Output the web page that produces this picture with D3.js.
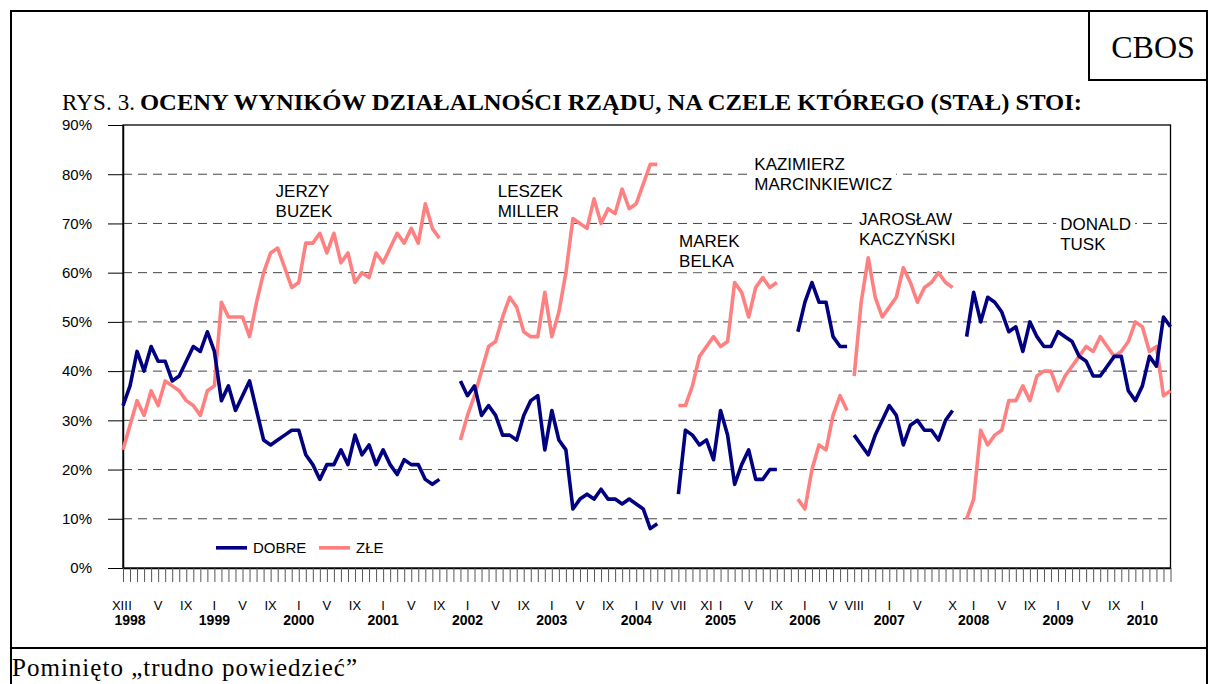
<!DOCTYPE html>
<html>
<head>
<meta charset="utf-8">
<script src="https://cdn.jsdelivr.net/npm/d3@7/dist/d3.min.js"></script>
<style>
  body { margin: 0; background: #fff; }
  svg { display: block; }
</style>
</head>
<body>
<svg></svg>
<script>
// DATA  (month index 0 = XII 1997, one step per month, last = V 2010)

const N_MONTHS = 150;

// first month index of each government's series
const govStart = [0, 48, 79, 96, 104, 120];

const govNames = [
    ["JERZY", "BUZEK"],
    ["LESZEK", "MILLER"],
    ["MAREK", "BELKA"],
    ["KAZIMIERZ", "MARCINKIEWICZ"],
    ["JAROSŁAW", "KACZYŃSKI"],
    ["DONALD", "TUSK"]
];

// where the name sits: [month index, percent] of its first line
const govLabelPos = [[21.7, 76.6], [53.3, 76.6], [79.1, 66.4], [89.8, 82.1], [104.7, 70.9], [133.3, 69.9]];

// "dobre" (good) ratings, per government
const dobreBuzek = [33, 37, 44, 40, 45, 42, 42, 38, 39, 42, 45, 44, 48, 44, 34, 37, 32, 35, 38, 32, 26, 25, 26, 27, 28,
    28, 23, 21, 18, 21, 21, 24, 21, 27, 23, 25, 21, 24, 21, 19, 22, 21, 21, 18, 17, 18];
const dobreMiller = [38, 35, 37, 31, 33, 31, 27, 27, 26, 31, 34, 35, 24, 32, 26, 24, 12, 14, 15, 14, 16, 14, 14, 13, 14,
    13, 12, 8, 9];
const dobreBelka = [15, 28, 27, 25, 26, 22, 32, 27, 17, 21, 24, 18, 18, 20, 20];
const dobreMarcinkiewicz = [48, 54, 58, 54, 54, 47, 45, 45];
const dobreKaczynski = [27, 25, 23, 27, 30, 33, 31, 25, 29, 30, 28, 28, 26, 30, 32];
const dobreTusk = [47, 56, 50, 55, 54, 52, 48, 49, 44, 50, 47, 45, 45, 48, 47, 46, 43, 42, 39, 39, 41, 43, 43, 36, 34,
    37, 43, 41, 51, 49];

// "złe" (bad) ratings, per government
const zleBuzek = [24, 29, 34, 31, 36, 33, 38, 37, 36, 34, 33, 31, 36, 37, 54, 51, 51, 51, 47, 54, 60, 64, 65, 61, 57,
    58, 66, 66, 68, 64, 68, 62, 64, 58, 60, 59, 64, 62, 65, 68, 66, 69, 66, 74, 69, 67];
const zleMiller = [26, 31, 35, 40, 45, 46, 51, 55, 53, 48, 47, 47, 56, 47, 52, 60, 71, 70, 69, 75, 70, 73, 72, 77, 73,
    74, 78, 82, 82];
const zleBelka = [33, 33, 37, 43, 45, 47, 45, 46, 58, 56, 51, 57, 59, 57, 58];
const zleMarcinkiewicz = [14, 12, 20, 25, 24, 31, 35, 32];
const zleKaczynski = [39, 54, 63, 55, 51, 53, 55, 61, 58, 54, 57, 58, 60, 58, 57];
const zleTusk = [10, 14, 28, 25, 27, 28, 34, 34, 37, 34, 39, 40, 40, 36, 39, 41, 43, 45, 44, 47, 45, 43, 44, 46, 50,
    49, 44, 45, 35, 36];

const dobreByGov = [dobreBuzek, dobreMiller, dobreBelka, dobreMarcinkiewicz, dobreKaczynski, dobreTusk];
const zleByGov = [zleBuzek, zleMiller, zleBelka, zleMarcinkiewicz, zleKaczynski, zleTusk];

// month tick labels (index, roman numeral)
const monthLabelIdx = [0, 1, 5, 9, 13, 17, 21, 25, 29, 33, 37, 41, 45, 49, 53, 57, 61, 65, 69, 73, 76, 79, 83, 85,
    89, 93, 97, 101, 104, 109, 113, 118, 121, 125, 129, 133, 137, 141, 145];
const monthLabels = ["XII", "I", "V", "IX", "I", "V", "IX", "I", "V", "IX", "I", "V", "IX", "I", "V", "IX", "I", "V",
    "IX", "I", "IV", "VII", "XI", "I", "V", "IX", "I", "V", "VIII", "I", "V", "X", "I", "V", "IX", "I", "V", "IX", "I"];

const years = ["1998", "1999", "2000", "2001", "2002", "2003", "2004", "2005", "2006", "2007", "2008", "2009", "2010"];
const yearIdx = [1, 13, 25, 37, 49, 61, 73, 85, 97, 109, 121, 133, 145];

const yTicks = [0, 10, 20, 30, 40, 50, 60, 70, 80, 90];

// LAYOUT / STYLE

const WIDTH = 1208, HEIGHT = 684;
const PLOT = { left: 123, right: 1170.5, top: 125, bottom: 568 };
const DOBRE_COLOR = '#000080';
const ZLE_COLOR = '#ff8080';
const LINE_WIDTH = 3.6;
const SANS = '"Liberation Sans", Arial, sans-serif';
const SERIF = '"Liberation Serif", "Times New Roman", serif';

const x = d3.scaleLinear().domain([0, N_MONTHS - 1]).range([PLOT.left, PLOT.right]);
const y = d3.scaleLinear().domain([0, 90]).range([PLOT.bottom, PLOT.top]);

const svg = d3.select('svg')
    .attr('width', WIDTH)
    .attr('height', HEIGHT);

svg.append('rect')
    .attr('width', WIDTH).attr('height', HEIGHT)
    .attr('fill', '#fff');

// outer frame
const frame = svg.append('g').attr('fill', 'none').attr('stroke', '#000').attr('stroke-width', 2);
frame.append('path').attr('d', 'M11,684 L11,11 L1207,11 L1207,684');
frame.append('line').attr('x1', 11).attr('x2', 1207).attr('y1', 648).attr('y2', 648);
frame.append('path').attr('d', 'M1089,11 L1089,80 L1207,80');

svg.append('text')
    .attr('x', 1153).attr('y', 58)
    .attr('text-anchor', 'middle')
    .style('font-family', SERIF)
    .style('font-size', '32px')
    .text('CBOS');

// title
svg.append('text')
    .attr('x', 62).attr('y', 110)
    .attr('textLength', 73)
    .style('font-family', SERIF)
    .style('font-size', '23px')
    .text('RYS. 3.');
svg.append('text')
    .attr('x', 140).attr('y', 110)
    .attr('textLength', 942)
    .attr('lengthAdjust', 'spacingAndGlyphs')
    .style('font-family', SERIF)
    .style('font-size', '24px')
    .style('font-weight', 'bold')
    .text('OCENY WYNIKÓW DZIAŁALNOŚCI RZĄDU, NA CZELE KTÓREGO (STAŁ) STOI:');

// footer note
svg.append('text')
    .attr('x', 12).attr('y', 676)
    .attr('textLength', 345)
    .attr('lengthAdjust', 'spacing')
    .style('font-family', SERIF)
    .style('font-size', '25px')
    .text('Pominięto „trudno powiedzieć”');

// gridlines
svg.append('g')
    .selectAll('line')
    .data(yTicks.filter(t => t > 0 && t < 90))
    .enter()
    .append('line')
    .attr('x1', PLOT.left).attr('x2', PLOT.right)
    .attr('y1', d => y(d)).attr('y2', d => y(d))
    .attr('stroke', '#444')
    .attr('stroke-width', 1)
    .attr('stroke-dasharray', '9,6');

// plot frame
svg.append('rect')
    .attr('x', PLOT.left).attr('y', PLOT.top)
    .attr('width', PLOT.right - PLOT.left).attr('height', PLOT.bottom - PLOT.top)
    .attr('fill', 'none')
    .attr('stroke', '#000')
    .attr('stroke-width', 1.3);

// y axis
const yAxis = svg.append('g')
    .attr('transform', `translate(${PLOT.left},0)`)
    .call(d3.axisLeft(y).tickValues(yTicks).tickFormat(d => d + '%').tickSize(15).tickPadding(16).tickSizeOuter(0));
yAxis.select('.domain').attr('stroke', '#000').attr('stroke-width', 1.5);
yAxis.selectAll('.tick line').attr('stroke', '#000');
yAxis.selectAll('.tick text')
    .style('font-family', SANS)
    .style('font-size', '15px')
    .attr('fill', '#000');

// x axis: one tick per month
const xAxis = svg.append('g')
    .attr('transform', `translate(0,${PLOT.bottom})`)
    .call(d3.axisBottom(x).tickValues(d3.range(N_MONTHS)).tickFormat('').tickSize(14).tickSizeOuter(0));
xAxis.select('.domain').attr('stroke', '#000').attr('stroke-width', 1.5);
xAxis.selectAll('.tick line').attr('stroke', '#555').attr('stroke-width', 1);

// the first label (XII) is pushed left so that it just touches the "I" after it
svg.append('g')
    .selectAll('text')
    .data(monthLabels)
    .enter()
    .append('text')
    .attr('x', (d, i) => i === 0 ? x(monthLabelIdx[1]) - 2.2 : x(monthLabelIdx[i]))
    .attr('y', 610)
    .attr('text-anchor', (d, i) => i === 0 ? 'end' : 'middle')
    .style('font-family', SANS)
    .style('font-size', '13px')
    .text(d => d);

svg.append('g')
    .selectAll('text')
    .data(years)
    .enter()
    .append('text')
    .attr('x', (d, i) => x(yearIdx[i]))
    .attr('y', 625)
    .attr('text-anchor', 'middle')
    .style('font-family', SANS)
    .style('font-size', '14px')
    .style('font-weight', 'bold')
    .text(d => d);

// government names, on a white patch that breaks the gridlines
const names = svg.append('g')
    .selectAll('g')
    .data(govNames)
    .enter()
    .append('g')
    .attr('transform', (d, i) => `translate(${x(govLabelPos[i][0])},${y(govLabelPos[i][1])})`);

names.append('rect')
    .attr('x', -4).attr('y', -13)
    .attr('height', 44)
    .attr('fill', '#fff');

names.each(function (d) {
    const g = d3.select(this);
    const t = g.append('text')
        .style('font-family', SANS)
        .style('font-size', '17px')
        .attr('dominant-baseline', 'central');
    d.forEach((s, k) => {
        t.append('tspan').attr('x', 0).attr('y', k * 20).text(s);
    });
    const bb = t.node().getBBox();
    g.select('rect').attr('width', bb.width + 8);
});

// series lines
const line = d3.line()
    .defined(d => d.v != null)
    .x(d => x(d.m))
    .y(d => y(d.v));

function seriesPoints(values, start) {
    return values.map((v, i) => ({ m: start + i, v: v }));
}

const series = svg.append('g').attr('fill', 'none')
    .attr('stroke-width', LINE_WIDTH)
    .attr('stroke-linejoin', 'round');

series.selectAll('.zle')
    .data(zleByGov)
    .enter()
    .append('path')
    .classed('zle', true)
    .attr('stroke', ZLE_COLOR)
    .attr('d', (d, i) => line(seriesPoints(d, govStart[i])));

series.selectAll('.dobre')
    .data(dobreByGov)
    .enter()
    .append('path')
    .classed('dobre', true)
    .attr('stroke', DOBRE_COLOR)
    .attr('d', (d, i) => line(seriesPoints(d, govStart[i])));

// legend
const legend = svg.append('g').attr('transform', `translate(216,${y(4.1)})`);
const legendItems = [
    { label: 'DOBRE', color: DOBRE_COLOR, dx: 0 },
    { label: 'ZŁE', color: ZLE_COLOR, dx: 103 }
];
legendItems.forEach(item => {
    legend.append('line')
        .attr('x1', item.dx).attr('x2', item.dx + 31)
        .attr('stroke', item.color)
        .attr('stroke-width', LINE_WIDTH);
    legend.append('text')
        .attr('x', item.dx + 37)
        .attr('dominant-baseline', 'central')
        .style('font-family', SANS)
        .style('font-size', '15px')
        .text(item.label);
});
</script>
</body>
</html>
